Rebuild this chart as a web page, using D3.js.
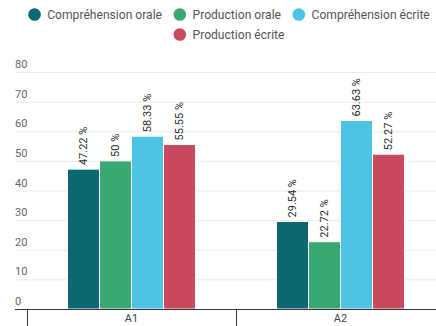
<!DOCTYPE html>
<html>
<head>
<meta charset="utf-8">
<script src="https://cdn.jsdelivr.net/npm/d3@7"></script>
<style>
  html, body { margin: 0; padding: 0; background: #fff; }
  svg { display: block; font-family: Roboto, "Noto Sans", sans-serif; }
</style>
</head>
<body>
<svg id="chart" width="436" height="326"></svg>
<script>
// Levels and skills
const categories = ["A1", "A2"];
const series = ["Compréhension orale", "Production orale", "Compréhension écrite", "Production écrite"];
const colors = ["#0b6873", "#3aa873", "#4fc3e6", "#c9495e"];
const valuesA1 = [47.22, 50, 58.33, 55.55];
const valuesA2 = [29.54, 22.72, 63.63, 52.27];
const valueLabelsA1 = ["47.22 %", "50 %", "58.33 %", "55.55 %"];
const valueLabelsA2 = ["29.54 %", "22.72 %", "63.63 %", "52.27 %"];
const yTicks = [0, 10, 20, 30, 40, 50, 60, 70, 80];

const rows = [
  { cat: categories[0], values: valuesA1, labels: valueLabelsA1 },
  { cat: categories[1], values: valuesA2, labels: valueLabelsA2 }
];

const W = 436, H = 326;
const svg = d3.select("#chart");

const y = d3.scaleLinear().domain([0, 80]).range([309, 72]);
const x0 = d3.scaleBand().domain(categories).range([27, 445]).paddingInner(0).paddingOuter(0);
const bandInner = 128;
const x1 = d3.scaleBand().domain(series).range([0, bandInner]).paddingInner(0);

// Gridlines with labels sitting above each line
const grid = svg.append("g");
yTicks.forEach(t => {
  if (t !== 0) {
    grid.append("line")
      .attr("x1", 15).attr("x2", W)
      .attr("y1", y(t) + 0.5).attr("y2", y(t) + 0.5)
      .attr("stroke", "#ebebeb").attr("stroke-width", 1);
  }
  grid.append("text")
    .attr("x", 15).attr("y", y(t) - 4)
    .attr("font-size", 11).attr("fill", "#666")
    .text(t);
});

// Bars
const groups = svg.append("g").selectAll("g").data(rows).join("g")
  .attr("transform", d => `translate(${x0(d.cat) + (x0.bandwidth() - bandInner) / 2},0)`);

groups.selectAll("rect")
  .data(d => d.values.map((v, i) => ({ v, i, s: series[i] })))
  .join("rect")
  .attr("x", d => x1(d.s))
  .attr("width", x1.bandwidth())
  .attr("y", d => y(d.v))
  .attr("height", d => y(0) - y(d.v))
  .attr("fill", d => colors[d.i])
  .attr("stroke", "#fff").attr("stroke-width", 1);

groups.selectAll("text.val")
  .data(d => d.values.map((v, i) => ({ v, i, s: series[i], label: d.labels[i] })))
  .join("text")
  .attr("class", "val")
  .attr("transform", d => `translate(${x1(d.s) + x1.bandwidth() / 2},${y(d.v) - 4}) rotate(-90)`)
  .attr("dominant-baseline", "central")
  .attr("font-size", 11).attr("fill", "#2b2b2b")
  .text(d => d.label);

// Category axis
const axis = svg.append("g");
axis.append("line")
  .attr("x1", 15).attr("x2", W)
  .attr("y1", y(0) + 0.5).attr("y2", y(0) + 0.5)
  .attr("stroke", "#333").attr("stroke-width", 1);
const tickXs = [x0.range()[0], ...categories.map(c => x0(c) + x0.bandwidth())];
tickXs.forEach(tx => {
  axis.append("line")
    .attr("x1", Math.round(tx) + 0.5).attr("x2", Math.round(tx) + 0.5)
    .attr("y1", y(0)).attr("y2", H)
    .attr("stroke", "#333").attr("stroke-width", 1);
});
categories.forEach(c => {
  axis.append("text")
    .attr("x", x0(c) + x0.bandwidth() / 2).attr("y", 318)
    .attr("text-anchor", "middle").attr("dominant-baseline", "central")
    .attr("font-size", 11).attr("fill", "#444")
    .text(c);
});

// Legend: wrapped rows, centered
const legend = svg.append("g");
const items = series.map((s, i) => {
  const g = legend.append("g");
  g.append("circle").attr("r", 6.3).attr("cx", 6.3).attr("cy", 0).attr("fill", colors[i]);
  const t = g.append("text").attr("x", 19).attr("y", 0)
    .attr("dominant-baseline", "central")
    .attr("font-size", 12.1).attr("fill", "#555").text(s);
  return { g, w: 19 + t.node().getComputedTextLength() };
});
const gap = 11.5, maxW = 425, centerX = 229, rowYs = [14.5, 34.5];
const legendRows = [[]];
let cur = 0;
items.forEach(it => {
  const row = legendRows[legendRows.length - 1];
  const need = (row.length ? gap : 0) + it.w;
  if (row.length && cur + need > maxW) { legendRows.push([it]); cur = it.w; }
  else { row.push(it); cur += need; }
});
legendRows.forEach((row, r) => {
  const total = d3.sum(row, d => d.w) + gap * (row.length - 1);
  let xx = centerX - total / 2;
  row.forEach(it => {
    it.g.attr("transform", `translate(${xx},${rowYs[r]})`);
    xx += it.w + gap;
  });
});
</script>
</body>
</html>
